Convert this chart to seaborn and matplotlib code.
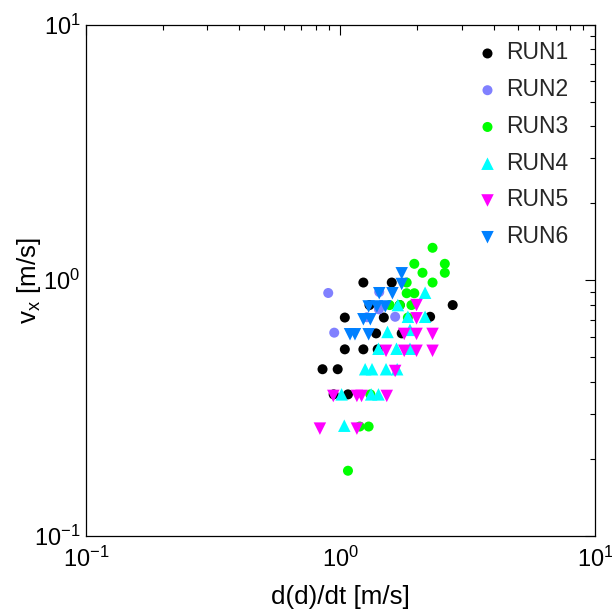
import numpy as np
import pandas as pd
import matplotlib
matplotlib.use("Agg")
import matplotlib.pyplot as plt
import matplotlib.transforms as mtransforms
import seaborn as sns
from matplotlib.ticker import LogLocator, NullFormatter

# d(d)/dt [m/s] and v_x [m/s] for each run
run1_x = [1.23, 1.59, 2.76, 1.71, 1.30, 1.04, 1.48, 2.25, 1.38, 1.74, 1.04, 1.23, 1.40, 0.85, 0.975, 0.94, 1.07]
run1_y = [0.98, 0.98, 0.80, 0.80, 0.80, 0.715, 0.715, 0.72, 0.62, 0.62, 0.537, 0.537, 0.537, 0.449, 0.449, 0.358, 0.358]

run2_x = [0.895, 0.945, 1.416, 1.64, 1.27, 1.42]
run2_y = [0.892, 0.624, 0.77, 0.72, 0.717, 0.90]

run3_x = [2.30, 1.95, 2.57, 2.10, 2.57, 2.30, 1.82, 1.82, 1.95, 1.71, 1.56, 1.84, 1.90, 1.19, 1.29, 1.07, 1.31]
run3_y = [1.34, 1.16, 1.16, 1.07, 1.07, 0.98, 0.98, 0.89, 0.89, 0.80, 0.80, 0.715, 0.80, 0.268, 0.268, 0.18, 0.358]

run4_x = [2.15, 1.68, 1.53, 1.875, 2.15, 1.84, 1.41, 1.66, 1.875, 1.25, 1.33, 1.51, 1.67, 1.01, 1.32, 1.41, 1.035]
run4_y = [0.894, 0.80, 0.628, 0.64, 0.72, 0.72, 0.54, 0.54, 0.54, 0.449, 0.449, 0.449, 0.449, 0.358, 0.358, 0.358, 0.27]

run5_x = [1.99, 1.99, 1.78, 1.99, 2.30, 1.51, 1.78, 1.99, 2.30, 1.64, 0.937, 1.16, 1.21, 1.52, 0.83, 1.16]
run5_y = [0.80, 0.71, 0.617, 0.617, 0.617, 0.53, 0.53, 0.53, 0.53, 0.442, 0.353, 0.353, 0.353, 0.353, 0.263, 0.263]

run6_x = [1.74, 1.74, 1.42, 1.60, 1.29, 1.39, 1.50, 1.23, 1.31, 1.09, 1.14, 1.29]
run6_y = [1.065, 0.967, 0.89, 0.89, 0.79, 0.79, 0.79, 0.704, 0.704, 0.615, 0.615, 0.615]

runs = ["RUN1", "RUN2", "RUN3", "RUN4", "RUN5", "RUN6"]
xs = [run1_x, run2_x, run3_x, run4_x, run5_x, run6_x]
ys = [run1_y, run2_y, run3_y, run4_y, run5_y, run6_y]

colors = ["#000000", "#8080FF", "#00FF00", "#00FFFF", "#FF00FF", "#0080FF"]
markers = ["o", "o", "o", "^", "v", "v"]
sizes = [52, 52, 52, 81, 81, 81]

sns.set_style("white")
plt.rcParams["font.family"] = ["Liberation Sans", "DejaVu Sans"]
plt.rcParams["mathtext.default"] = "regular"

fig = plt.figure(figsize=(6.12, 6.14), dpi=100, facecolor="white")
ax = fig.add_axes([0.1405, 0.127, 0.8317, 0.833])

for run, x, y, c, m, s in zip(runs, xs, ys, colors, markers, sizes):
    df = pd.DataFrame({"d": x, "vx": y})
    sns.scatterplot(data=df, x="d", y="vx", ax=ax, color=c, marker=m, s=s,
                    edgecolor="none", linewidth=0, label=run)

ax.set_xscale("log")
ax.set_yscale("log")
ax.set_xlim(0.1, 10)
ax.set_ylim(0.1, 10)

for axis in (ax.xaxis, ax.yaxis):
    axis.set_major_locator(LogLocator(base=10, numticks=10))
    axis.set_minor_locator(LogLocator(base=10, subs=np.arange(2, 10), numticks=10))
    axis.set_minor_formatter(NullFormatter())

ax.tick_params(which="both", direction="in", top=True, right=True, colors="black",
               labelsize=17, width=0.8)
ax.tick_params(which="major", length=7)
ax.tick_params(axis="x", which="major", pad=8)
ax.tick_params(axis="y", which="major", pad=4)
ax.tick_params(which="minor", length=3.5)

for sp in ax.spines.values():
    sp.set_visible(True)
    sp.set_color("black")
    sp.set_linewidth(0.9)

ax.set_xlabel("d(d)/dt [m/s]", fontsize=18.7, color="black", labelpad=9)
ax.set_ylabel("$v_x$ [m/s]", fontsize=18.7, color="black")
ax.yaxis.set_label_coords(-0.085, 0.5)

# lift the lowest y tick label a little so it clears the x one below it
fig.canvas.draw()
ylabels = ax.get_yticklabels()
if ylabels:
    low = ylabels[0]
    low.set_transform(low.get_transform() + mtransforms.ScaledTranslation(0, 5 / 100, fig.dpi_scale_trans))

leg = ax.legend(loc="upper right", frameon=False, fontsize=16.5, handletextpad=0.2,
                labelspacing=0.6, borderaxespad=0.6, handlelength=1.2,
                bbox_to_anchor=(1 - 4 / 509, 1 + 6 / 511))

fig.savefig("out.png", dpi=100, facecolor="white")
